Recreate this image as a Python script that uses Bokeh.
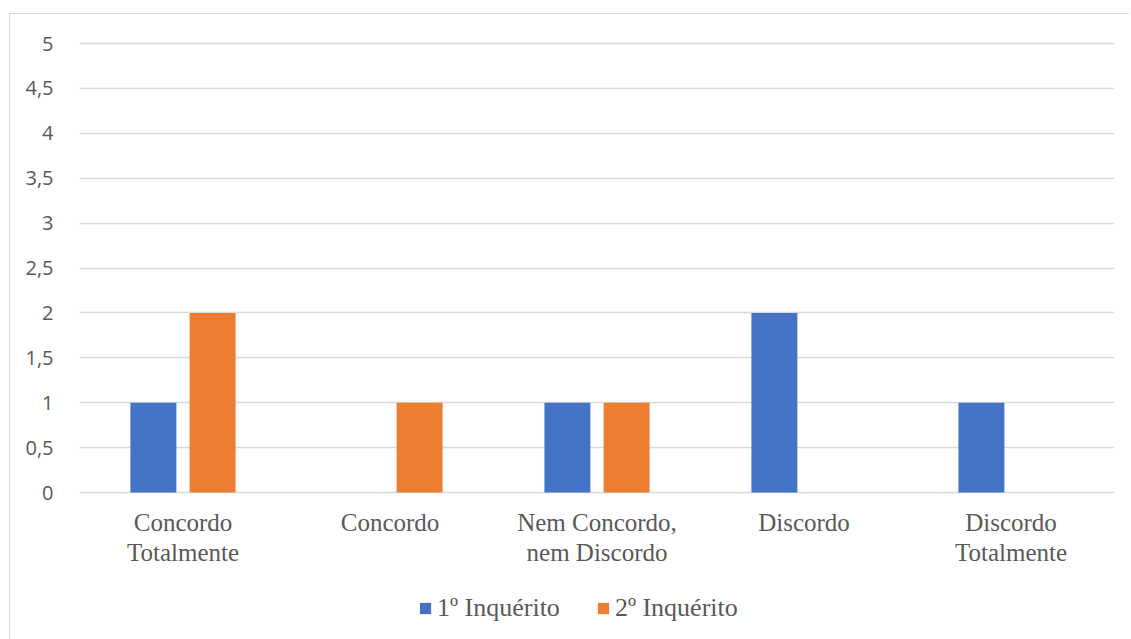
from bokeh.plotting import figure
from bokeh.models import (ColumnDataSource, FactorRange, Legend, LegendItem,
                          FixedTicker, Range1d)
from bokeh.core.properties import value
from bokeh.transform import dodge
from bokeh.embed import file_html
from bokeh.resources import INLINE

# Survey answers, counted per inquiry round
categories = ["Concordo\nTotalmente", "Concordo", "Nem Concordo,\nnem Discordo",
              "Discordo", "Discordo\nTotalmente"]
inquerito_1 = [1, 0, 1, 2, 1]
inquerito_2 = [2, 1, 1, 0, 0]
series_names = ["1º Inquérito", "2º Inquérito"]
y_ticks = [0, 0.5, 1, 1.5, 2, 2.5, 3, 3.5, 4, 4.5, 5]
y_tick_labels = ["0", "0,5", "1", "1,5", "2", "2,5", "3", "3,5", "4", "4,5", "5"]

BLUE = "#4472C4"
ORANGE = "#ED7D31"
TEXT = "#595959"
GRID = "#d9d9d9"
SERIF = "Liberation Serif"

# Vertical scale: 0..5 spans 449 px; the frame reaches further down so the
# category labels and the legend live inside it.
PX_PER_UNIT = 449 / 5
y_top = max(y_ticks) + 1 / PX_PER_UNIT
y_bottom = -144 / PX_PER_UNIT

source = ColumnDataSource(dict(cat=categories, s1=inquerito_1, s2=inquerito_2))
label_y = -16 / PX_PER_UNIT
labels = ColumnDataSource(dict(cat=categories, y=[label_y] * len(categories)))

p = figure(x_range=FactorRange(*categories), y_range=Range1d(y_bottom, y_top),
           width=1120, height=626, output_backend="svg", toolbar_location=None,
           min_border_left=69, min_border_right=16, min_border_top=28, min_border_bottom=4)
p.margin = (13, 0, 0, 9)
p.styles = {"border-left": f"1px solid {GRID}", "border-top": f"1px solid {GRID}"}
p.outline_line_color = None
p.background_fill_color = "white"
p.border_fill_color = "white"

r1 = p.vbar(x=dodge("cat", -0.143, range=p.x_range), top="s1", width=0.222,
            source=source, color=BLUE, line_color=None)
r2 = p.vbar(x=dodge("cat", 0.143, range=p.x_range), top="s2", width=0.222,
            source=source, color=ORANGE, line_color=None)

# Category labels under the baseline
p.text(x="cat", y="y", text="cat", source=labels,
       text_font=value(SERIF), text_font_size="25px",
       text_color=TEXT, text_align="center", text_baseline="top",
       text_line_height=1.12)

# Axes and grid
p.xaxis.visible = False
p.xgrid.grid_line_color = None
ticker = FixedTicker(ticks=y_ticks)
p.yaxis.ticker = ticker
p.ygrid.ticker = ticker
p.ygrid.grid_line_color = GRID
p.ygrid.grid_line_width = 1.5
p.yaxis.major_label_overrides = dict(zip(y_ticks, y_tick_labels))
p.yaxis.axis_line_color = None
p.yaxis.major_tick_line_color = None
p.yaxis.minor_tick_line_color = None
p.yaxis.major_label_text_font = "Open Sans"
p.yaxis.major_label_text_font_size = "20px"
p.yaxis.major_label_text_color = TEXT
p.yaxis.major_label_standoff = 20

legend = Legend(items=[LegendItem(label=series_names[0], renderers=[r1]),
                       LegendItem(label=series_names[1], renderers=[r2])],
                orientation="horizontal", location=(339, 13),
                padding=0, margin=0, spacing=36, label_standoff=5,
                glyph_width=14, glyph_height=14,
                border_line_color=None, background_fill_alpha=0)
legend.label_text_font = SERIF
legend.label_text_font_size = "26px"
legend.label_text_color = TEXT
p.add_layout(legend, "center")

open("out.html", "w").write(file_html(p, INLINE))
